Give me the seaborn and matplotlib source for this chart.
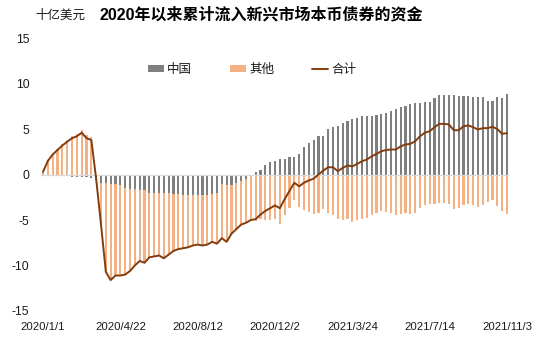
import numpy as np
import pandas as pd
import matplotlib
matplotlib.use("Agg")
import matplotlib.pyplot as plt
import seaborn as sns
from matplotlib.patches import Patch
from matplotlib.lines import Line2D

# ---- data (weekly, billions USD, from 2020/1/1) ----
dates = pd.date_range("2020-01-01", periods=97, freq="7D")
week_labels = [f"{d.year}/{d.month}/{d.day}" for d in dates]

china = [
    -0.05, -0.05, -0.1, -0.15, -0.2, -0.2, -0.25, -0.25, -0.3, -0.3,
    -0.35, -0.6, -0.9, -0.9, -1.0, -1.05, -1.1, -1.5, -1.55, -1.55,
    -1.65, -1.75, -2.0, -2.0, -2.0, -2.0, -2.0, -2.1, -2.1, -2.2,
    -2.2, -2.3, -2.3, -2.2, -2.2, -2.1, -2.0, -1.0, -1.2, -1.1,
    -0.9, -0.7, -0.5, -0.2, 0.25, 0.5, 1.0, 1.35, 1.5, 1.7,
    1.7, 1.9, 1.95, 2.27, 3.0, 3.5, 3.85, 4.2, 4.2, 5.05,
    5.2, 5.3, 5.7, 5.85, 6.1, 6.2, 6.4, 6.4, 6.4, 6.5,
    6.6, 6.8, 7.0, 7.15, 7.4, 7.5, 7.7, 7.9, 7.9, 8.0,
    8.0, 8.4, 8.7, 8.7, 8.7, 8.7, 8.6, 8.6, 8.6, 8.55,
    8.55, 8.5, 8.1, 8.1, 8.5, 8.45, 8.9,
]

other = [
    0.35, 1.55, 2.3, 2.85, 3.4, 3.8, 4.25, 4.45, 4.9, 4.3,
    4.15, 0.1, -4.6, -9.8, -10.6, -10.05, -10.0, -9.5, -9.05, -8.45,
    -7.85, -7.95, -7.1, -7.0, -6.9, -7.2, -6.8, -6.3, -6.1, -5.9,
    -5.8, -5.5, -5.4, -5.6, -5.5, -5.3, -5.6, -6.0, -6.2, -5.4,
    -5.1, -4.8, -4.8, -4.8, -5.15, -4.9, -5.0, -5.05, -4.9, -5.4,
    -4.4, -3.7, -2.85, -3.57, -3.9, -4.15, -4.3, -4.2, -3.76, -4.25,
    -4.4, -4.93, -4.97, -4.85, -5.2, -5.03, -4.94, -4.75, -4.4, -4.23,
    -4.04, -4.1, -4.25, -4.4, -4.3, -4.2, -4.33, -4.24, -3.7, -3.4,
    -3.24, -3.2, -3.13, -3.13, -3.2, -3.83, -3.73, -3.3, -3.2, -3.35,
    -3.6, -3.4, -3.0, -2.85, -3.5, -3.98, -4.35,
]

series_names = ["中国", "其他", "合计"]
tick_every = 16
y_ticks = [15, 10, 5, 0, -5, -10, -15]

# ---- derived for drawing ----
idx = np.arange(len(china))
china_a = np.array(china)
other_a = np.array(other)
total = china_a + other_a
# stacked extent of the orange bar (from 0), gray is drawn on top of it
same_sign = np.sign(china_a) == np.sign(other_a)
other_extent = np.where(same_sign, china_a + other_a, other_a)

df = pd.DataFrame({"i": idx, "china": china_a, "other_ext": other_extent, "total": total})

C_GRAY = "#7f7f7f"
C_ORANGE = "#f4b183"
C_LINE = "#843c0c"

sns.set_theme(style="white")
plt.rcParams["font.family"] = ["Liberation Sans", "Noto Sans CJK SC", "DejaVu Sans"]
plt.rcParams["axes.unicode_minus"] = False

fig = plt.figure(figsize=(5.5, 3.49), dpi=100)
ax = fig.add_axes([40.6 / 550, 0.1089, 468.8 / 550, 0.782])

sns.barplot(data=df, x="i", y="other_ext", native_scale=True, color=C_ORANGE,
            saturation=1, width=0.45, errorbar=None, ax=ax, linewidth=0)
sns.barplot(data=df, x="i", y="china", native_scale=True, color=C_GRAY,
            saturation=1, width=0.45, errorbar=None, ax=ax, linewidth=0)
ax.axhline(0, color="#d9d9d9", lw=0.9, zorder=1.5)
sns.lineplot(data=df, x="i", y="total", color=C_LINE, lw=1.4, ax=ax, zorder=5)

ax.set_xlim(-0.5, len(idx) - 0.5)
ax.set_ylim(-15, 15)
ax.set_yticks(y_ticks)
ax.set_yticklabels([str(v) for v in y_ticks])
xt = list(range(0, len(idx), tick_every))
ax.set_xticks(xt)
ax.set_xticklabels([week_labels[k] for k in xt])
ax.set_xlabel("")
ax.set_ylabel("")
ax.tick_params(axis="x", length=0, pad=8, labelsize=8.2, labelcolor="#1a1a1a")
ax.tick_params(axis="y", length=0, pad=8, labelsize=8.7, labelcolor="#1a1a1a")
sns.despine(ax=ax, left=True, bottom=True)
ax.grid(False)

handles = [
    Patch(facecolor=C_GRAY, edgecolor="none"),
    Patch(facecolor=C_ORANGE, edgecolor="none"),
    Line2D([0], [0], color=C_LINE, lw=1.4),
]
leg = fig.legend(handles, series_names, loc="center", bbox_to_anchor=(252 / 550, 1 - 70 / 349),
                 ncol=3, frameon=False, fontsize=9, handlelength=1.3, handleheight=0.55,
                 handletextpad=0.25, columnspacing=3.0)
for t in leg.get_texts():
    t.set_color("#1a1a1a")

fig.text(35 / 550, 1 - 15 / 349, "十亿美元", fontsize=9, va="center", ha="left",
         color="#1a1a1a", family=["Noto Sans CJK SC", "DejaVu Sans"])
fig.text(100 / 550, 1 - 15 / 349, "2020年以来累计流入新兴市场本币债券的资金", fontsize=11.5,
         fontweight="bold", va="center", ha="left", color="#000000",
         family=["Liberation Sans", "Noto Sans CJK SC", "DejaVu Sans"])

fig.savefig("out.png", dpi=100, facecolor="white")
